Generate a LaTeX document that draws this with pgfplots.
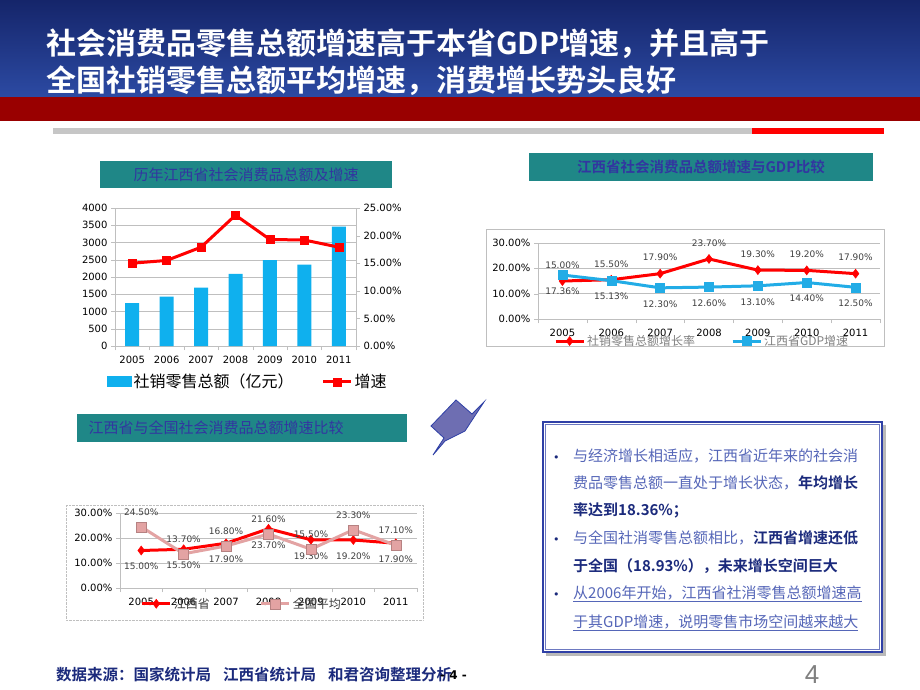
\documentclass[border=0pt]{standalone}
\usepackage{pgfplots}
\pgfplotsset{compat=1.18}
\usepackage{fontspec}
\setmainfont{DejaVu Sans}
\newfontfamily\cjk{Noto Sans CJK SC}[BoldFont={Noto Sans CJK SC Bold}]
\newfontfamily\arial{Liberation Sans}

\definecolor{navytop}{HTML}{15256A}
\definecolor{navymid}{HTML}{2C4AA3}
\definecolor{bandred}{HTML}{990000}
\definecolor{teal1}{HTML}{1F8787}
\definecolor{ttlblue}{HTML}{3236A0}
\definecolor{barblue}{HTML}{0FB0EE}
\definecolor{lineblue}{HTML}{22ACE6}
\definecolor{rosy}{HTML}{E3A3A3}
\definecolor{txtlight}{HTML}{5566B8}
\definecolor{txtdark}{HTML}{1B2A7C}
\definecolor{boxblue}{HTML}{2F40A6}
\definecolor{arrowfill}{HTML}{6E6EB2}
\definecolor{gridgray}{HTML}{BFBFBF}
\definecolor{lblgray}{HTML}{404040}

\pgfplotsset{
  linelegend/.style={legend image code/.code={%
    \draw[mark repeat=2,mark phase=2,sharp plot,##1] plot coordinates {(0pt,0pt) (14pt,0pt) (28pt,0pt)};}},
  slide axis/.style={
    anchor=south west, scale only axis,
    xmin=-0.5, xmax=6.5,
    xtick={-0.5,0.5,...,6.5}, xticklabels={},
    extra x ticks={0,...,6},
    extra x tick labels={2005,2006,2007,2008,2009,2010,2011},
    extra x tick style={major tick length=0pt, tick label style={yshift=-7pt}},
    tick align=outside, major tick length=4pt,
    axis line style={gridgray}, tick style={gridgray},
    ymajorgrids, grid style={gridgray},
    tick label style={font=\fontsize{10}{12}\selectfont, text=black},
    /pgf/number format/assume math mode=true,
    /pgf/number format/1000 sep={},
    axis x line*=bottom, axis y line*=left,
    clip=false,
  },
  pct/.style={yticklabel={\pgfmathprintnumber[fixed,fixed zerofill,precision=2]{\tick}\%}},
  pctlabel/.style={nodes near coords={\pgfmathprintnumber[fixed,fixed zerofill,precision=2]{\pgfplotspointmeta}\%},
    every node near coord/.append style={font=\fontsize{9}{10}\selectfont, text=lblgray, anchor=center, yshift=#1}},
}

\begin{document}
\begin{tikzpicture}
\path[use as bounding box, fill=white] (0pt,0pt) rectangle (920pt,-690pt);

\begin{scope}[x=1pt,y=1pt]
% header
\shade[top color=navytop, bottom color=navymid] (0,0) rectangle (920,-97);
\fill[bandred] (0,-97) rectangle (920,-121);
\fill[gray!45] (53,-128) rectangle (752,-134);
\fill[red] (752,-128) rectangle (884,-134);
\node[anchor=base west, inner sep=0, text=white, font=\cjk\bfseries\fontsize{30}{30}\selectfont] at (46,-55)
  {社会消费品零售总额增速高于本省GDP增速，并且高于};
\node[anchor=base west, inner sep=0, text=white, font=\cjk\bfseries\fontsize{30}{30}\selectfont] at (46,-92)
  {全国社销零售总额平均增速，消费增长势头良好};

% chart title boxes
\fill[teal1] (100,-161) rectangle (392,-188);
\node[text=ttlblue, font=\cjk\fontsize{15}{15}\selectfont] at (246,-174.5) {历年江西省社会消费品总额及增速};
\fill[teal1] (529,-153) rectangle (873,-181);
\node[text=ttlblue, font=\cjk\bfseries\fontsize{14.5}{15}\selectfont] at (701,-167) {江西省社会消费品总额增速与GDP比较};
\fill[teal1] (77,-414) rectangle (407,-442);
\node[anchor=west, text=ttlblue, font=\cjk\fontsize{15}{15}\selectfont] at (85,-428) {江西省与全国社会消费品总额增速比较};

% chart frames
\draw[gray!50] (486,-229) rectangle (884,-346);
\draw[gray!50, densely dotted] (66,-505) rectangle (423,-620);

% arrow shape
\filldraw[fill=arrowfill, draw=boxblue, line width=0.8pt]
  (431,-426) -- (456,-400) -- (472,-414) -- (484,-402) -- (465,-431) -- (445,-441) -- (433,-455) -- (444,-438) -- cycle;

% text box
\fill[gray!55] (546,-425) rectangle (886,-656);
\fill[white] (543,-422) rectangle (882,-652);
\draw[boxblue, line width=1.6pt] (543,-422) rectangle (882,-652);
\draw[boxblue!70, line width=0.5pt] (545.5,-424.5) rectangle (879.5,-649.5);
\foreach \y in {461,543.5,598.5}{
  \node[anchor=base west, inner sep=0, text=txtdark, font=\fontsize{11}{11}\selectfont] at (553,-\y) {•};
}
\begin{scope}[every node/.style={anchor=base west, inner sep=0, text=txtlight, font=\cjk\fontsize{15}{15}\selectfont}]
\node at (573,-461) {与经济增长相适应，江西省近年来的社会消};
\node at (573,-488.5) {费品零售总额一直处于增长状态，\textcolor{txtdark}{\bfseries 年均增长}};
\node at (573,-515.5) {\textcolor{txtdark}{\bfseries 率达到18.36\%；}};
\node at (573,-543.5) {与全国社消零售总额相比，\textcolor{txtdark}{\bfseries 江西省增速还低}};
\node at (573,-571.5) {\textcolor{txtdark}{\bfseries 于全国（18.93\%），未来增长空间巨大}};
\node at (573,-598.5) {\underline{从2006年开始，江西省社消零售总额增速高}};
\node at (573,-627) {\underline{于其GDP增速，说明零售市场空间越来越大}};
\end{scope}

% footer
\node[anchor=west, inner sep=0, text=txtdark, font=\cjk\bfseries\fontsize{15.5}{16}\selectfont] at (56,-675)
  {数据来源：国家统计局\hspace{12pt}江西省统计局\hspace{12pt}和君咨询整理分析};
\node[anchor=west, inner sep=0, font=\bfseries\fontsize{12}{12}\selectfont] at (440,-675) {- 4 -};
\node[text=gray, font=\arial\fontsize{26}{26}\selectfont] at (812,-675) {4};
\end{scope}

% chart 1: bars, left axis
\begin{axis}[slide axis, at={(115pt,-346pt)}, width=241pt, height=138pt,
  ymin=0, ymax=4000, ytick={0,500,...,4000},
  legend style={at={(0.55,-0.26)}, anchor=center, draw=none, fill=none,
    legend columns=2, font=\cjk\fontsize{16}{16}\selectfont,
    /tikz/every even column/.append style={column sep=26pt}},
]
\addplot[ybar, bar width=14pt, fill=barblue, draw=none,
  legend image code/.code={\fill[barblue] (0pt,-5pt) rectangle (25pt,6pt);}]
  coordinates {(0,1240) (1,1430) (2,1690) (3,2090) (4,2490) (5,2360) (6,3460)};
\addlegendentry{社销零售总额（亿元）}
\addlegendimage{red, line width=3pt, mark=square*, mark size=4pt, mark options={line width=0.5pt}, linelegend}
\addlegendentry{增速}
\end{axis}

% chart 1: growth, right axis
\begin{axis}[slide axis, at={(115pt,-346pt)}, width=241pt, height=138pt,
  axis x line=none, axis y line*=right, ymajorgrids=false,
  ymin=0, ymax=25, ytick={0,5,...,25}, pct]
\addplot[red, line width=3pt, mark=square*, mark size=4pt, mark options={line width=0.5pt}]
  coordinates {(0,15.0) (1,15.5) (2,17.9) (3,23.7) (4,19.3) (5,19.2) (6,17.9)};
\end{axis}

% chart 2
\begin{axis}[slide axis, at={(538pt,-319pt)}, width=342pt, height=76pt,
  ymin=0, ymax=30, ytick={0,10,20,30}, pct,
  legend style={at={(0.48,-0.29)}, anchor=center, draw=none, fill=none,
    legend columns=2, font=\cjk\fontsize{12}{12}\selectfont, text=gray,
    /tikz/every even column/.append style={column sep=34pt}},
]
\addplot[red, line width=3pt, mark=diamond*, mark size=4.5pt, mark options={line width=0.5pt}, linelegend, pctlabel=16pt]
  coordinates {(0,15.0) (1,15.5) (2,17.9) (3,23.7) (4,19.3) (5,19.2) (6,17.9)};
\addlegendentry{社销零售总额增长率}
\addplot[lineblue, line width=3pt, mark=square*, mark size=4.5pt, mark options={line width=0.5pt}, linelegend, pctlabel=-16pt]
  coordinates {(0,17.36) (1,15.13) (2,12.3) (3,12.6) (4,13.1) (5,14.4) (6,12.5)};
\addlegendentry{江西省GDP增速}
\end{axis}

% chart 3
\begin{axis}[slide axis, at={(120pt,-588pt)}, width=297pt, height=75pt,
  ymin=0, ymax=30, ytick={0,10,20,30}, pct,
  legend style={at={(0.41,-0.21)}, anchor=center, draw=none, fill=none,
    legend columns=2, font=\cjk\fontsize{12}{12}\selectfont, text=lblgray,
    /tikz/every even column/.append style={column sep=48pt}},
]
\addplot[red, line width=3pt, mark=diamond*, mark size=4.5pt, mark options={line width=0.5pt}, linelegend, pctlabel=-16pt]
  coordinates {(0,15.0) (1,15.5) (2,17.9) (3,23.7) (4,19.3) (5,19.2) (6,17.9)};
\addlegendentry{江西省}
\addplot[rosy, line width=3pt, mark=square*, mark size=5pt, mark options={line width=0.5pt, draw=rosy!80!black}, linelegend, pctlabel=15pt]
  coordinates {(0,24.5) (1,13.7) (2,16.8) (3,21.6) (4,15.5) (5,23.3) (6,17.1)};
\addlegendentry{全国平均}
\end{axis}
\end{tikzpicture}
\end{document}
